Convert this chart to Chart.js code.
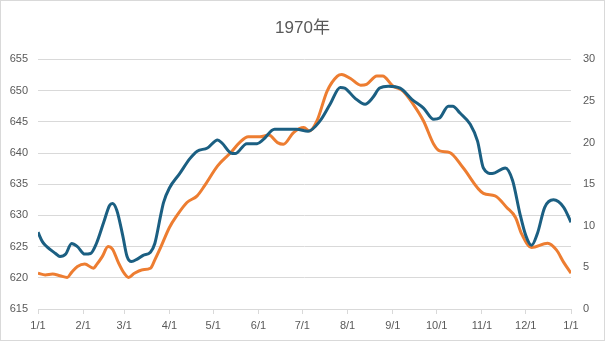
<!DOCTYPE html>
<html>
<head>
<meta charset="utf-8">
<script src="https://cdn.jsdelivr.net/npm/chart.js@4/dist/chart.umd.min.js"></script>
<style>
  html, body { margin: 0; padding: 0; background: #fff; }
  #wrap { width: 605px; height: 341px; position: relative; }
</style>
</head>
<body>
<div id="wrap"><canvas id="chart"></canvas></div>
<script>
// ----- Data (day of year) -----
const monthStarts = [0, 31, 59, 90, 120, 151, 181, 212, 243, 273, 304, 334, 365];
const monthLabels = ['1/1', '2/1', '3/1', '4/1', '5/1', '6/1', '7/1', '8/1', '9/1', '10/1', '11/1', '12/1', '1/1'];

// left axis series (dark blue)
const blueDays = [0, 3, 6, 12, 15, 19, 23, 27, 32, 36, 40, 45, 49, 51, 54, 58, 61, 64, 68, 72, 77, 80, 84, 86, 90,
  97, 104, 109, 116, 123, 126, 132, 135, 143, 150, 154, 162, 168, 177, 185, 193, 200, 207, 210, 217, 224, 229, 234,
  240, 248, 256, 264, 271, 275, 281, 284, 289, 296, 301, 305, 311, 320, 325, 330, 334, 338, 342, 347, 353, 360, 365];
const blueValues = [627.3, 625.8, 625.0, 623.9, 623.4, 623.8, 625.5, 625.0, 623.8, 623.9, 625.5, 628.9, 631.6, 631.9, 630.8, 626.8, 623.4, 622.6, 623.0, 623.6, 624.1, 625.5, 630.0, 632.1, 634.4,
  636.7, 639.1, 640.3, 640.8, 642.1, 641.6, 640.0, 639.9, 641.5, 641.5, 642.1, 643.8, 643.8, 643.8, 643.5, 645.1, 647.8, 650.5, 650.4, 648.8, 647.8, 648.8, 650.4,
  650.7, 650.4, 648.6, 647.2, 645.4, 645.6, 647.5, 647.5, 646.4, 644.6, 641.9, 637.6, 636.7, 637.6, 635.6, 630.3, 626.8, 625.2, 627.1, 631.3, 632.5, 631.3, 628.9];

// right axis series (orange)
const orangeDays = [0, 5, 10, 15, 20, 23, 27, 32, 38, 40, 44, 48, 51, 55, 59, 62, 66, 71, 77, 80, 84, 90, 95, 102, 109,
  114, 123, 132, 138, 144, 152, 158, 164, 168, 175, 182, 186, 191, 198, 205, 208, 214, 221, 225, 232, 236, 243, 250,
  257, 264, 271, 275, 282, 291, 305, 313, 321, 327, 331, 338, 349, 355, 360, 365];
const orangeValues = [4.3, 4.1, 4.2, 4.0, 3.8, 4.4, 5.1, 5.4, 4.9, 5.3, 6.3, 7.5, 7.2, 5.6, 4.3, 3.8, 4.3, 4.7, 4.9, 5.9, 7.4, 9.8, 11.2, 12.8, 13.6,
  14.8, 17.2, 18.8, 20.0, 20.7, 20.7, 20.9, 20.0, 19.8, 21.2, 21.8, 21.4, 22.6, 26.2, 28.0, 28.2, 27.7, 26.9, 27.0, 28.0, 28.0, 26.8, 26.2,
  24.6, 22.6, 19.8, 19.0, 18.8, 17.0, 13.9, 13.6, 12.2, 11.0, 9.1, 7.4, 7.9, 7.1, 5.6, 4.3];

const leftTicks  = { min: 615, max: 655, step: 5 };
const rightTicks = { min: 0, max: 30, step: 5 };

// ----- Style -----
const FONT = "'Liberation Sans', Arial, 'Noto Sans CJK JP', sans-serif";
const TXT = '#595959';
const GRID = '#d9d9d9';
const BLUE = '#1b5f82';
const ORANGE = '#ed7d31';

const toPoints = (xs, ys) => xs.map((d, i) => ({ x: d, y: ys[i] }));

const frame = {
  id: 'frame',
  afterDraw(chart) {
    const c = chart.ctx;
    c.save();
    c.strokeStyle = GRID;
    c.lineWidth = 1;
    c.strokeRect(0.5, 0.5, chart.width - 1, chart.height - 1);
    c.restore();
  },
};

new Chart(document.getElementById('chart'), {
  type: 'line',
  data: {
    datasets: [
      {
        label: 'left',
        data: toPoints(blueDays, blueValues),
        borderColor: BLUE,
        borderWidth: 3,
        pointRadius: 0,
        tension: 0.4,
        cubicInterpolationMode: 'monotone',
        yAxisID: 'y',
      },
      {
        label: 'right',
        data: toPoints(orangeDays, orangeValues),
        borderColor: ORANGE,
        borderWidth: 3,
        pointRadius: 0,
        tension: 0.4,
        cubicInterpolationMode: 'monotone',
        yAxisID: 'y1',
      },
    ],
  },
  options: {
    responsive: true,
    maintainAspectRatio: false,
    animation: false,
    layout: { padding: { top: 0, bottom: 0, left: 0, right: 0 } },
    plugins: {
      legend: { display: false },
      tooltip: { enabled: false },
      title: {
        display: true,
        text: '1970年',
        color: TXT,
        font: { family: FONT, size: 17, weight: 'normal' },
        padding: { top: 18, bottom: 21 },
      },
    },
    scales: {
      x: {
        type: 'linear',
        min: 0,
        max: 365,
        afterBuildTicks: s => { s.ticks = monthStarts.map(v => ({ value: v })); },
        afterFit: s => { s.height = 32; },
        ticks: {
          color: TXT,
          font: { family: FONT, size: 11 },
          padding: 5,
          maxRotation: 0,
          autoSkip: false,
          callback: (v) => monthLabels[monthStarts.indexOf(v)],
        },
        grid: { drawOnChartArea: false, drawTicks: true, tickLength: 5, color: GRID },
        border: { display: true, color: GRID },
      },
      y: {
        position: 'left',
        min: leftTicks.min,
        max: leftTicks.max,
        afterFit: s => { s.width = 38; },
        ticks: { stepSize: leftTicks.step, color: TXT, font: { family: FONT, size: 11 }, padding: 10 },
        grid: { color: GRID, drawTicks: false },
        border: { display: false },
      },
      y1: {
        position: 'right',
        min: rightTicks.min,
        max: rightTicks.max,
        afterFit: s => { s.width = 34; },
        ticks: { stepSize: rightTicks.step, color: TXT, font: { family: FONT, size: 11 }, padding: 12 },
        grid: { drawOnChartArea: false, drawTicks: false },
        border: { display: false },
      },
    },
  },
  plugins: [frame],
});
</script>
</body>
</html>
